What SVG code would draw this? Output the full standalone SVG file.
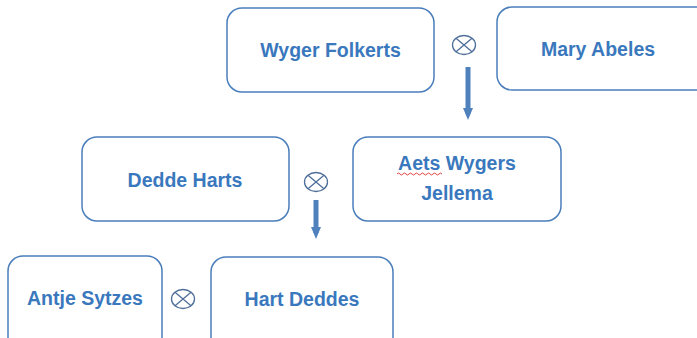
<svg xmlns="http://www.w3.org/2000/svg" width="697" height="338" viewBox="0 0 697 338">
<defs>
<style>
.box{fill:#fff;stroke:#4a7ebb;stroke-width:1.5}
.t{font-family:"Liberation Sans",Arial,sans-serif;font-weight:bold;font-size:19.5px;fill:#3a78be;text-anchor:middle}
.sym{fill:none;stroke:#4f6f9a;stroke-width:1.3}
.shaft{stroke:#4f81bd;stroke-width:5}
</style>
<marker id="ah" markerWidth="12" markerHeight="10" refX="6" refY="5" orient="auto" markerUnits="userSpaceOnUse" viewBox="0 0 12 10">
<path d="M0,0 L12,5 L0,10 Z" fill="#4f81bd"/>
</marker>
<g id="otimes"><ellipse cx="0" cy="0" rx="11.5" ry="9.5" class="sym"/><path d="M-8,-6.7 L8,6.7 M-8,6.7 L8,-6.7" class="sym"/></g>
</defs>
<rect width="697" height="338" fill="#fff"/>
<g id="n-wyger"><rect class="box" x="227" y="8" width="207" height="84" rx="15"/><text class="t" x="330.5" y="57">Wyger Folkerts</text></g>
<g id="n-mary"><rect class="box" x="497" y="7" width="215" height="83" rx="15"/><text class="t" x="598" y="56">Mary Abeles</text></g>
<g id="n-dedde"><rect class="box" x="82" y="137" width="207" height="84" rx="15"/><text class="t" x="185" y="187">Dedde Harts</text></g>
<g id="n-aets"><rect class="box" x="353" y="137" width="208" height="84" rx="15"/><text class="t" x="457" y="170">Aets Wygers</text><text class="t" x="457" y="200">Jellema</text><path d="M397,174 q1.5,-2 3,0 t3,0 t3,0 t3,0 t3,0 t3,0 t3,0 t3,0 t3,0 t3,0 t3,0 t3,0 t3,0 t3,0 t3,0" fill="none" stroke="#e03030" stroke-width="0.9"/></g>
<g id="n-antje"><rect class="box" x="8" y="256" width="154" height="100" rx="15"/><text class="t" x="85" y="305">Antje Sytzes</text></g>
<g id="n-hart"><rect class="box" x="211" y="257" width="182" height="100" rx="15"/><text class="t" x="302" y="306">Hart Deddes</text></g>
<g id="connectors">
<use href="#otimes" x="464" y="45"/>
<use href="#otimes" x="316" y="182"/>
<use href="#otimes" x="183" y="299"/>
<line class="shaft" x1="468" y1="67" x2="468" y2="114" marker-end="url(#ah)"/>
<line class="shaft" x1="316" y1="200" x2="316" y2="233" marker-end="url(#ah)"/>
</g>
</svg>
